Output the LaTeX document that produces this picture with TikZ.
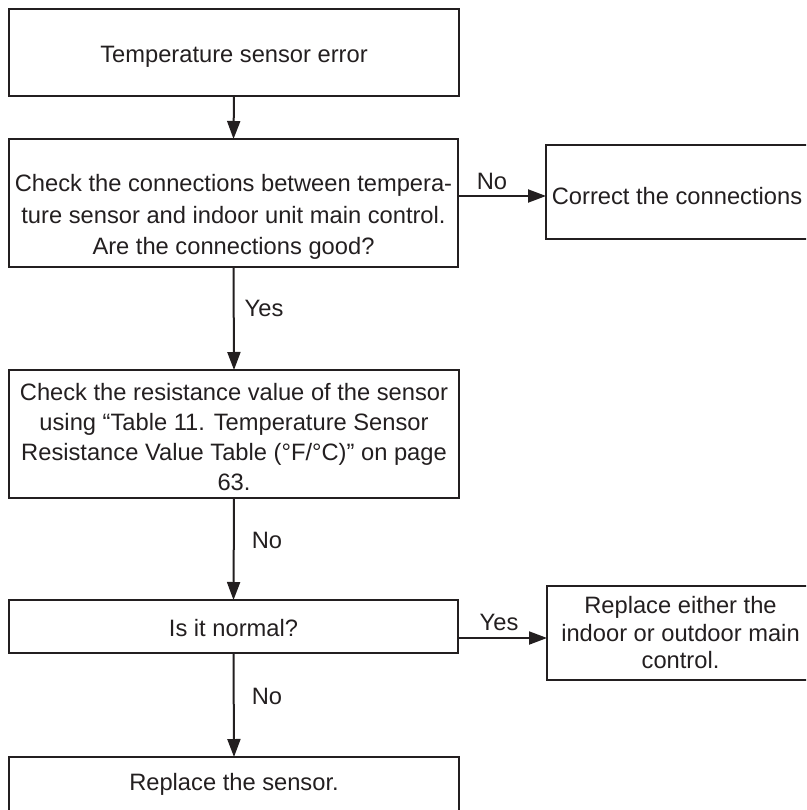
\documentclass[tikz,border=0pt]{standalone}
\usepackage{fontspec}
\setmainfont{Liberation Sans}
\usetikzlibrary{arrows.meta}
\definecolor{ink}{RGB}{35,31,32}

\begin{document}
\begin{tikzpicture}[x=1pt,y=-1pt,
  box/.style={draw=ink, line width=2.2pt, inner sep=0pt, outer sep=0pt},
  txt/.style={text=ink, font=\fontsize{23.7}{30}\selectfont, align=center, inner sep=0pt},
  flow/.style={draw=ink, line width=2pt, -{Triangle[length=18pt,width=13pt]}},
  lbl/.style={text=ink, font=\fontsize{23.7}{28}\selectfont, inner sep=0pt}]

  \path[use as bounding box] (0,0) rectangle (806,810);
  \clip (0,0) rectangle (806,810);

  % process boxes
  \node[box, minimum width=450pt, minimum height=87pt]  (b1) at (234,52.5) {};
  \node[box, minimum width=449pt, minimum height=128pt] (b2) at (233.5,203) {};
  \node[box, minimum width=284pt, minimum height=94pt]  (b3) at (688,192) {};
  \node[box, minimum width=450pt, minimum height=128pt] (b4) at (234,434) {};
  \node[box, minimum width=449pt, minimum height=53pt]  (b5) at (233.5,626.5) {};
  \node[box, minimum width=283pt, minimum height=94pt]  (b6) at (688.5,633) {};
  \node[box, minimum width=450pt, minimum height=73pt]  (b7) at (234,793.5) {};

  % box texts
  \node[txt] (t1) at (234,57) {Temperature sensor error};
  \node[txt, font=\fontsize{23.7}{31.5}\selectfont] (t2) at (233.5,217)
    {Check the connections between tempera-\\ture sensor and indoor unit main control.\\Are the connections good?};
  \node[txt] (t3) at (677,196) {Correct the connections};
  \node[txt] (t4) at (234,437)
    {Check the resistance value of the sensor\\using “Table 11. Temperature Sensor\\Resistance Value Table (°F/°C)” on page\\63.};
  \node[txt] (t5) at (233.5,628) {Is it normal?};
  \node[txt, font=\fontsize{23.7}{27.5}\selectfont] (t6) at (680.5,633)
    {Replace either the\\indoor or outdoor main\\control.};
  \node[txt] (t7) at (234,784) {Replace the sensor.};

  % connectors
  \coordinate (y6) at (500,638);
  \draw[flow] (b1.south) -- (b2.north);
  \draw[flow] (b2.east |- t3) -- (b3.west |- t3);
  \draw[flow] (b2.south) -- (b4.north);
  \draw[flow] (b4.south) -- (b5.north);
  \draw[flow] (b5.east |- y6) -- (b6.west |- y6);
  \draw[flow] (b5.south) -- (b7.north);

  % branch labels
  \node[lbl] (l1) at (492,181) {No};
  \node[lbl] (l2) at (264,308) {Yes};
  \node[lbl] (l3) at (267,540) {No};
  \node[lbl] (l4) at (499,622) {Yes};
  \node[lbl] (l5) at (267,696) {No};
\end{tikzpicture}
\end{document}
